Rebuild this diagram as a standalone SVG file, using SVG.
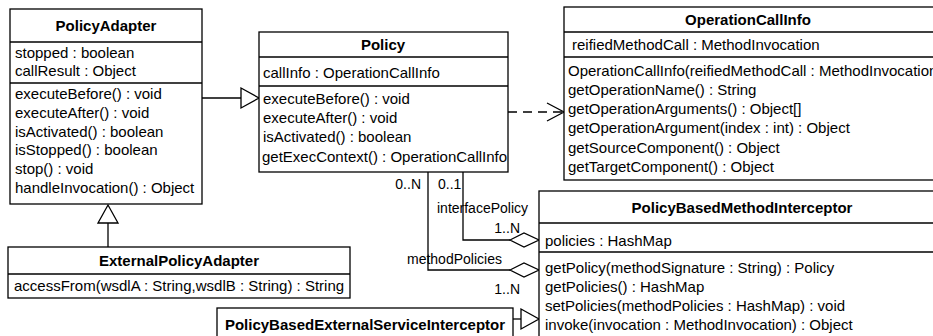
<svg xmlns="http://www.w3.org/2000/svg" width="933" height="336" viewBox="0 0 933 336">
<style>
.box{fill:#fff;stroke:#000;stroke-width:1.3}
.ln{stroke:#000;stroke-width:1.3;fill:none}
text{font-family:"Liberation Sans",Arial,sans-serif;font-size:15px;fill:#000}
.t{font-weight:bold;text-anchor:middle}
.r{text-anchor:end}
.lbl{font-size:14px}
</style>
<rect width="933" height="336" fill="#fff"/>
<g id="connectors">
  <line class="ln" x1="202" y1="98" x2="241" y2="98"/>
  <polygon class="ln" points="241,88 259,98 241,108" fill="#fff"/>
  <line class="ln" x1="108" y1="223" x2="108" y2="247"/>
  <polygon class="ln" points="98,223 108,205 118,223" fill="#fff"/>
  <line class="ln" x1="508" y1="112" x2="562" y2="112" stroke-dasharray="9,6"/>
  <polyline class="ln" points="547,103 564,112 547,121"/>
  <polyline class="ln" points="463,172 463,240 510,240"/>
  <polygon class="ln" points="510,240 524,233 539,240 524,247" fill="#fff"/>
  <polyline class="ln" points="428,172 428,270 510,270"/>
  <polygon class="ln" points="510,270 524,263 539,270 524,277" fill="#fff"/>
  <line class="ln" x1="513" y1="319" x2="521" y2="319"/>
  <polygon class="ln" points="521,309 539,319 521,329" fill="#fff"/>
  <text class="lbl r" x="421" y="189">0..N</text>
  <text class="lbl" x="438" y="189">0..1</text>
  <text class="lbl" x="437" y="213">interfacePolicy</text>
  <text class="lbl r" x="520" y="233">1..N</text>
  <text class="lbl" x="407" y="264">methodPolicies</text>
  <text class="lbl r" x="520" y="294">1..N</text>
</g>
<g id="PolicyAdapter">
  <rect class="box" x="10" y="9" width="192" height="195"/>
  <line class="ln" x1="10" y1="42" x2="202" y2="42"/>
  <line class="ln" x1="10" y1="83" x2="202" y2="83"/>
  <text class="t" x="106" y="31">PolicyAdapter</text>
  <text x="15" y="58">stopped : boolean</text>
  <text x="15" y="76">callResult : Object</text>
  <text x="15" y="99">executeBefore() : void</text>
  <text x="15" y="118">executeAfter() : void</text>
  <text x="15" y="137">isActivated() : boolean</text>
  <text x="15" y="155">isStopped() : boolean</text>
  <text x="15" y="174">stop() : void</text>
  <text x="15" y="193">handleInvocation() : Object</text>
</g>
<g id="Policy">
  <rect class="box" x="259" y="32" width="249" height="140"/>
  <line class="ln" x1="259" y1="57" x2="508" y2="57"/>
  <line class="ln" x1="259" y1="86" x2="508" y2="86"/>
  <text class="t" x="383" y="50">Policy</text>
  <text x="263" y="78">callInfo : OperationCallInfo</text>
  <text x="263" y="104">executeBefore() : void</text>
  <text x="263" y="123">executeAfter() : void</text>
  <text x="263" y="142">isActivated() : boolean</text>
  <text x="262" y="162">getExecContext() : OperationCallInfo</text>
</g>
<g id="OperationCallInfo">
  <rect class="box" x="564" y="7" width="380" height="173"/>
  <line class="ln" x1="564" y1="32" x2="944" y2="32"/>
  <line class="ln" x1="564" y1="57" x2="944" y2="57"/>
  <text class="t" x="748" y="25">OperationCallInfo</text>
  <text x="572" y="50">reifiedMethodCall : MethodInvocation</text>
  <text x="568" y="76">OperationCallInfo(reifiedMethodCall : MethodInvocation)</text>
  <text x="568" y="95">getOperationName() : String</text>
  <text x="568" y="114">getOperationArguments() : Object[]</text>
  <text x="568" y="133">getOperationArgument(index : int) : Object</text>
  <text x="568" y="153">getSourceComponent() : Object</text>
  <text x="568" y="172">getTargetComponent() : Object</text>
</g>
<g id="PolicyBasedMethodInterceptor">
  <rect class="box" x="539" y="191" width="405" height="160"/>
  <line class="ln" x1="539" y1="223" x2="944" y2="223"/>
  <line class="ln" x1="539" y1="252" x2="944" y2="252"/>
  <text class="t" x="742" y="213">PolicyBasedMethodInterceptor</text>
  <text x="545" y="246">policies : HashMap</text>
  <text x="545" y="273">getPolicy(methodSignature : String) : Policy</text>
  <text x="545" y="292">getPolicies() : HashMap</text>
  <text x="545" y="311">setPolicies(methodPolicies : HashMap) : void</text>
  <text x="545" y="330">invoke(invocation : MethodInvocation) : Object</text>
</g>
<g id="ExternalPolicyAdapter">
  <rect class="box" x="8" y="247" width="342" height="51"/>
  <line class="ln" x1="8" y1="274" x2="350" y2="274"/>
  <text class="t" x="179" y="266">ExternalPolicyAdapter</text>
  <text x="14" y="291">accessFrom(wsdlA : String,wsdlB : String) : String</text>
</g>
<g id="PolicyBasedExternalServiceInterceptor">
  <rect class="box" x="217" y="308" width="296" height="40"/>
  <text class="t" x="365" y="330">PolicyBasedExternalServiceInterceptor</text>
</g>
</svg>
